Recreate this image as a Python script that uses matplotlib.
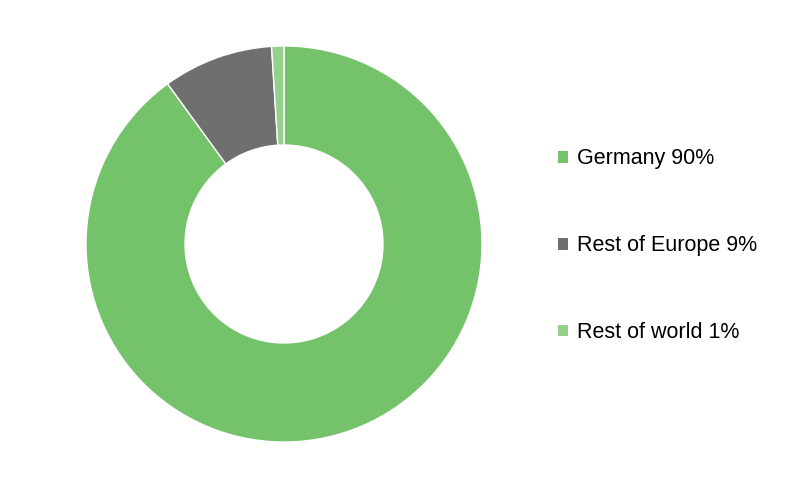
import matplotlib.pyplot as plt
from matplotlib.patches import Patch

plt.rcParams['font.family'] = ['Liberation Sans', 'DejaVu Sans']

# Share of sales by region
regions = ['Germany', 'Rest of Europe', 'Rest of world']
shares = [90, 9, 1]
colors = ['#74C26A', '#6F6F6F', '#94D18B']

fig = plt.figure(figsize=(8, 4.82), dpi=100)
# donut centred at (284, 244) px, outer radius 198 px
ax = fig.add_axes([(284 - 198) / 800, 40 / 482, 396 / 800, 396 / 482])
ax.pie(shares, colors=colors, startangle=90, counterclock=False, radius=1,
       wedgeprops=dict(width=0.5, edgecolor='white', linewidth=1))
ax.set_xlim(-1, 1)
ax.set_ylim(-1, 1)
ax.set_aspect('equal')
ax.axis('off')

handles = [Patch(facecolor=c, edgecolor='none') for c in colors]
labels = [f'{r} {s}%' for r, s in zip(regions, shares)]
fig.legend(handles, labels, loc='center left', bbox_to_anchor=(558 / 800, 0.490),
           frameon=False, fontsize=15.5, labelspacing=3.06, handlelength=0.47,
           handleheight=0.47, handletextpad=0.42, borderpad=0, borderaxespad=0)

fig.savefig('out.png', dpi=100)
